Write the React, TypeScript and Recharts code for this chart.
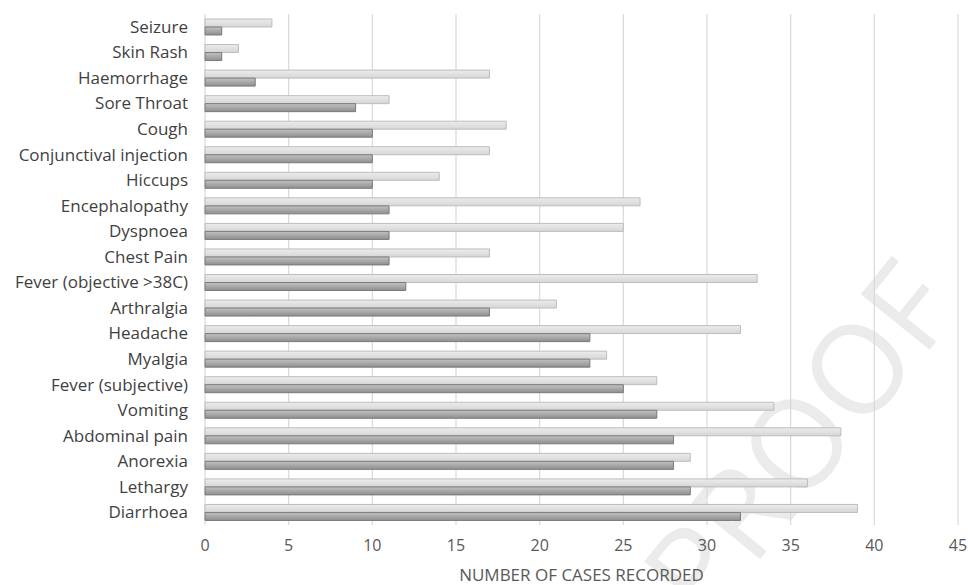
import { BarChart, Bar, XAxis, YAxis, CartesianGrid } from 'recharts'

// ── Data ──────────────────────────────────────────────────────────────────

const SYMPTOMS = [
  'Seizure', 'Skin Rash', 'Haemorrhage', 'Sore Throat', 'Cough',
  'Conjunctival injection', 'Hiccups', 'Encephalopathy', 'Dyspnoea', 'Chest Pain',
  'Fever (objective >38C)', 'Arthralgia', 'Headache ', 'Myalgia', 'Fever (subjective)',
  'Vomiting', 'Abdominal pain', 'Anorexia', 'Lethargy', 'Diarrhoea',
]
const LIGHT_SERIES = [4, 2, 17, 11, 18, 17, 14, 26, 25, 17, 33, 21, 32, 24, 27, 34, 38, 29, 36, 39]
const DARK_SERIES = [1, 1, 3, 9, 10, 10, 10, 11, 11, 11, 12, 17, 23, 23, 25, 27, 28, 28, 29, 32]
const X_TICKS = [0, 5, 10, 15, 20, 25, 30, 35, 40, 45]

const rows = SYMPTOMS.map((name, i) => ({ name, light: LIGHT_SERIES[i], dark: DARK_SERIES[i] }))

// ── Styles ────────────────────────────────────────────────────────────────

const FONT = '"Open Sans", sans-serif'
const CAT_TICK = { fontSize: 17, fill: '#3f3f3f', fontFamily: FONT }
const NUM_TICK = { fontSize: 16, fill: '#595959', fontFamily: FONT }

export default function App() {
  return (
    <div style={{ position: 'absolute', left: 0, top: 0, width: 968, height: 585, background: '#fff', overflow: 'hidden' }}>
      {/* faint watermark behind the chart */}
      <svg width={968} height={585} style={{ position: 'absolute', left: 0, top: 0 }}>
        <text
          x={834} y={468} textAnchor="middle"
          transform="rotate(-51 834 468)"
          fontSize={124} fontFamily={FONT} fill="#ebebeb"
        >
          PROOF
        </text>
      </svg>
      <div style={{ position: 'absolute', left: 0, top: 0 }}>
        <BarChart
          width={968} height={585} data={rows} layout="vertical"
          margin={{ top: 14, right: 10, bottom: 4, left: 0 }}
          barGap={0} barSize={8}
        >
          <defs>
            <linearGradient id="lightGrad" x1="0" y1="0" x2="0" y2="1">
              <stop offset="0%" stopColor="#ececec" />
              <stop offset="100%" stopColor="#d6d6d6" />
            </linearGradient>
            <linearGradient id="darkGrad" x1="0" y1="0" x2="0" y2="1">
              <stop offset="0%" stopColor="#c2c2c2" />
              <stop offset="100%" stopColor="#8e8e8e" />
            </linearGradient>
          </defs>
          <CartesianGrid horizontal={false} stroke="#d9d9d9" strokeWidth={1.2} />
          <XAxis
            type="number" domain={[0, 45]} ticks={X_TICKS} interval={0}
            axisLine={false} tickLine={false} tickSize={0} tickMargin={15}
            tick={NUM_TICK} height={56}
            label={{ value: 'NUMBER OF CASES RECORDED', position: 'insideBottom', offset: 0, fontSize: 17, fill: '#595959', fontFamily: FONT }}
          />
          <YAxis
            type="category" dataKey="name" width={205} interval={0}
            axisLine={false} tickLine={false} tickSize={0} tickMargin={17}
            tick={CAT_TICK}
          />
          <Bar dataKey="light" fill="url(#lightGrad)" stroke="#bdbdbd" strokeWidth={1} isAnimationActive={false} />
          <Bar dataKey="dark" fill="url(#darkGrad)" stroke="#7a7a7a" strokeWidth={1} isAnimationActive={false} />
        </BarChart>
      </div>
    </div>
  )
}
